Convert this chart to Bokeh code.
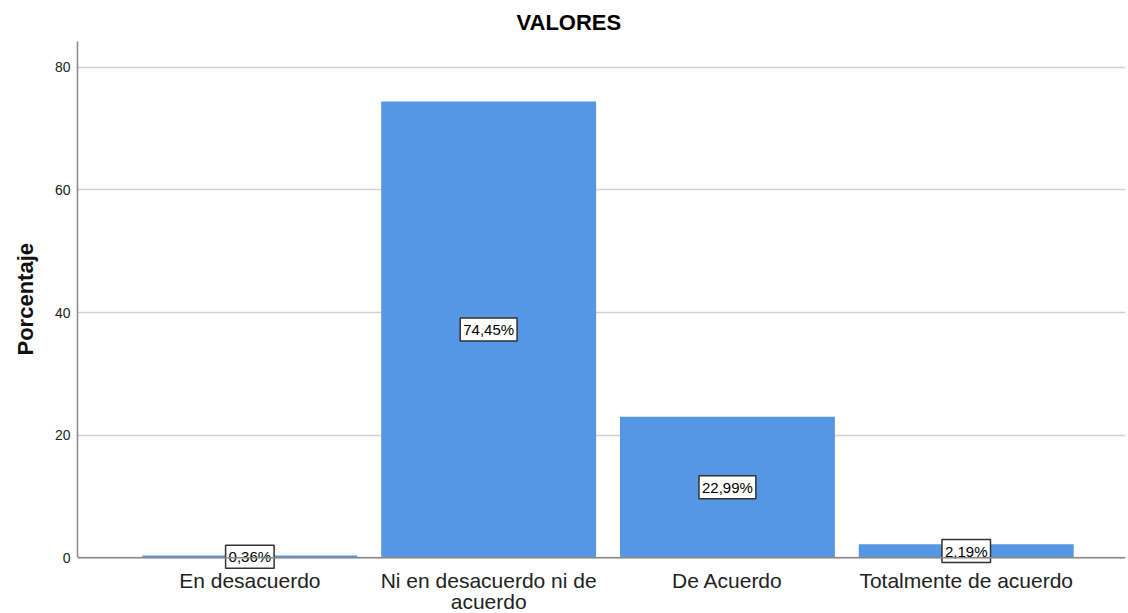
from bokeh.plotting import figure
from bokeh.models import ColumnDataSource, FixedTicker, Range1d, Span, Title
from bokeh.core.properties import value
from bokeh.embed import file_html
from bokeh.resources import INLINE

categories = ["En desacuerdo", "Ni en desacuerdo ni de\nacuerdo", "De Acuerdo", "Totalmente de acuerdo"]
values = [0.36, 74.45, 22.99, 2.19]
y_ticks = [0, 20, 40, 60, 80]

xs = list(range(len(categories)))
labels = [("%.2f" % v).replace(".", ",") + "%" for v in values]
line1 = [c.split("\n")[0] for c in categories]
line2 = [c.split("\n")[1] if "\n" in c else "" for c in categories]
src = ColumnDataSource(dict(x=xs, top=values, mid=[v / 2 for v in values], label=labels,
                            l1=line1, l2=line2, zero=[0] * len(xs)))

FONT = "Liberation Sans"
PX = 6.1625          # pixels per percent unit
W, H, TOP, ZERO = 1126, 612, 38, 557
y_top = (ZERO - TOP) / PX
y_bot = -(H - ZERO) / PX

p = figure(width=W, height=H, output_backend="svg", toolbar_location=None,
           x_range=Range1d(-0.7218, 3.667), y_range=Range1d(y_bot, y_top),
           min_border_left=76, min_border_right=1, min_border_top=TOP, min_border_bottom=0,
           title="VALORES")
p.outline_line_color = None
p.title.text_font = FONT
p.title.text_font_size = "22px"
p.title.text_font_style = "bold"
p.title.text_color = "#000000"
p.title.align = "left"
p.title.offset = 439
p.title.standoff = 14

p.xgrid.grid_line_color = None
p.ygrid.grid_line_color = "#D2D2D2"
p.ygrid.grid_line_width = 1.5

p.vbar(x="x", top="top", width=0.9, source=src, fill_color="#5596E5", line_color=None)
p.add_layout(Span(location=0, dimension="width", line_color="#888888", line_width=1.5))

p.text(x="x", y="mid", text="label", source=src, text_align="center", text_baseline="middle",
       text_font=value(FONT), text_font_size="15px", text_color="#000000",
       background_fill_color="white", border_line_color="#333333", border_line_width=1.5,
       padding=3)

p.text(x="x", y="zero", text="l1", source=src, text_align="center", text_baseline="alphabetic",
       y_offset=23, text_font=value(FONT), text_font_size="21px", text_color="#222222")
p.text(x="x", y="zero", text="l2", source=src, text_align="center", text_baseline="alphabetic",
       y_offset=44, text_font=value(FONT), text_font_size="21px", text_color="#222222")

p.xaxis.visible = False
p.yaxis.ticker = FixedTicker(ticks=y_ticks)
p.yaxis.bounds = (0, y_top)
ax = p.yaxis[0]
ax.axis_line_color = "#888888"
ax.axis_line_width = 1.5
ax.major_tick_line_color = None
ax.minor_tick_line_color = None
ax.major_tick_out = 0
ax.major_tick_in = 0
ax.major_label_text_font = FONT
ax.major_label_text_color = "#222222"
ax.major_label_text_font_size = "14px"
ax.major_label_standoff = 7

ylab = Title(text="Porcentaje", align="left", offset=H - 355, vertical_align="top", standoff=24,
             text_font=FONT, text_font_size="22px", text_font_style="bold", text_color="#111111")
p.add_layout(ylab, "left")

open("out.html", "w").write(file_html(p, INLINE))
